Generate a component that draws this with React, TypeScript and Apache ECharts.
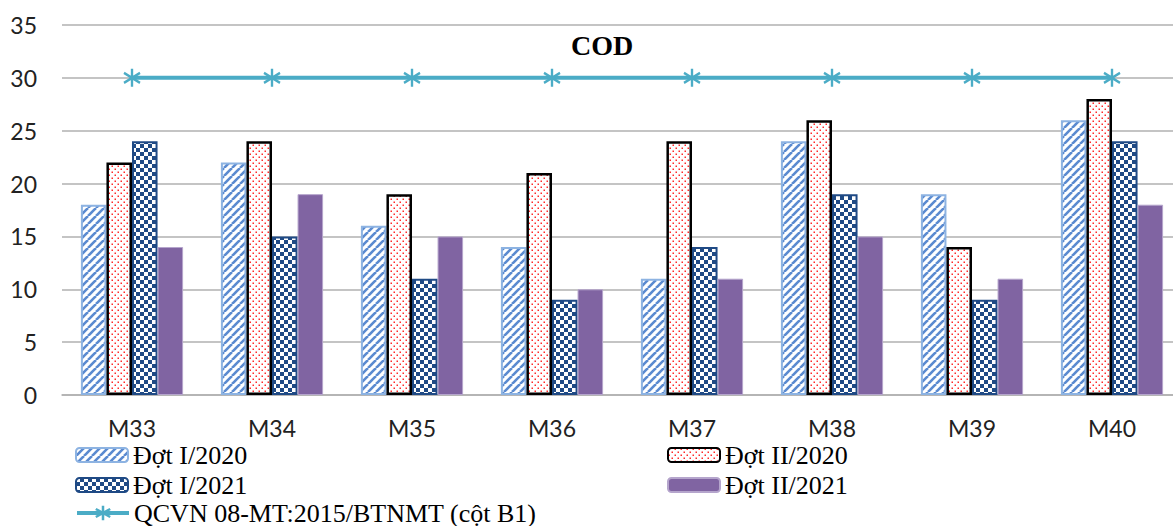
import React, { useEffect, useRef } from "react";
import * as echarts from "echarts";

// Monitoring points and COD values per sampling round
const categories = ["M33", "M34", "M35", "M36", "M37", "M38", "M39", "M40"];
const dotI2020 = [18, 22, 16, 14, 11, 24, 19, 26];
const dotII2020 = [22, 24, 19, 21, 24, 26, 14, 28];
const dotI2021 = [24, 15, 11, 9, 14, 19, 9, 24];
const dotII2021 = [14, 19, 15, 10, 11, 15, 11, 18];
const qcvnLimit = [30, 30, 30, 30, 30, 30, 30, 30];

const seriesNames = [
  "Đợt I/2020",
  "Đợt II/2020",
  "Đợt I/2021",
  "Đợt II/2021",
  "QCVN 08-MT:2015/BTNMT (cột B1)",
];

const yMin = 0;
const yMax = 35;
const yStep = 5;

function tile(size: number, draw: (ctx: CanvasRenderingContext2D) => void) {
  const c = document.createElement("canvas");
  c.width = size;
  c.height = size;
  const ctx = c.getContext("2d")!;
  draw(ctx);
  return {
    image: c.toDataURL(),
    repeat: "repeat",
    imageWidth: size,
    imageHeight: size,
  } as any;
}

function stripes() {
  return tile(8, (ctx) => {
    ctx.fillStyle = "#ffffff";
    ctx.fillRect(0, 0, 8, 8);
    ctx.strokeStyle = "#5a8ad0";
    ctx.lineWidth = 2.6;
    for (const k of [-8, 0, 8]) {
      ctx.beginPath();
      ctx.moveTo(k, 8);
      ctx.lineTo(k + 8, 0);
      ctx.stroke();
    }
  });
}

function dots() {
  return tile(6, (ctx) => {
    ctx.fillStyle = "#ffffff";
    ctx.fillRect(0, 0, 6, 6);
    ctx.fillStyle = "#ff2a2a";
    ctx.fillRect(0.5, 0.5, 1.5, 1.5);
    ctx.fillRect(3.5, 3.5, 1.5, 1.5);
  });
}

function checker() {
  return tile(8, (ctx) => {
    ctx.fillStyle = "#1f4a85";
    ctx.fillRect(0, 0, 8, 8);
    ctx.fillStyle = "#ffffff";
    ctx.fillRect(0, 0, 4, 4);
    ctx.fillRect(4, 4, 4, 4);
  });
}

// Asterisk marker: vertical stroke crossed by an X
const starPath = "path://M8,0L8,18M0,4L16,14M0,14L16,4";

const serifFont = "'Liberation Serif', 'Times New Roman', serif";
const sansFont = "Lato, 'Noto Sans', sans-serif";

export default function App() {
  const ref = useRef<HTMLDivElement>(null);

  useEffect(() => {
    if (!ref.current) return;
    const chart = echarts.init(ref.current, undefined, { renderer: "svg" });

    const legendText = {
      fontFamily: serifFont,
      fontSize: 26,
      color: "#000000",
      lineHeight: 28,
    };
    const legendAt = (name: string, left: number, top: number, extra: any = {}) => ({
      data: [name],
      left,
      top,
      orient: "horizontal",
      itemWidth: 52,
      itemHeight: 14,
      itemGap: 0,
      padding: 0,
      selectedMode: false,
      textStyle: legendText,
      ...extra,
    });

    chart.setOption({
      animation: false,
      backgroundColor: "#ffffff",
      grid: {
        left: 62,
        top: 25,
        width: 1120,
        height: 370,
        containLabel: false,
        outerBoundsMode: "none",
      },
      graphic: [
        {
          type: "text",
          left: 601 - 30,
          top: 31,
          style: {
            text: "COD",
            font: `bold 28px ${serifFont}`,
            fill: "#000000",
          },
        },
      ],
      legend: [
        legendAt(seriesNames[0], 75, 441),
        legendAt(seriesNames[1], 667, 441),
        legendAt(seriesNames[2], 75, 471),
        legendAt(seriesNames[3], 667, 471),
        legendAt(seriesNames[4], 75, 499, {
          itemHeight: 18,
          lineStyle: { width: 4, color: "#4bacc6" },
          itemStyle: { borderWidth: 2.5, borderColor: "#4bacc6" },
        }),
      ],
      xAxis: {
        type: "category",
        data: categories,
        axisLine: { show: true, lineStyle: { color: "#b0b0b0", width: 1.5 } },
        axisTick: { show: false },
        axisLabel: {
          fontFamily: sansFont,
          fontSize: 23,
          color: "#222222",
          margin: 21,
        },
      },
      yAxis: {
        type: "value",
        min: yMin,
        max: yMax,
        interval: yStep,
        axisLine: { show: false },
        axisTick: { show: false },
        splitLine: { lineStyle: { color: "#b0b0b0", width: 1.5 } },
        axisLabel: {
          fontFamily: sansFont,
          fontSize: 23,
          color: "#222222",
          margin: 25,
        },
      },
      series: [
        {
          name: seriesNames[0],
          type: "bar",
          data: dotI2020,
          barGap: "0%",
          barCategoryGap: "27%",
          itemStyle: { color: stripes(), borderColor: "#8db3e2", borderWidth: 2 },
        },
        {
          name: seriesNames[1],
          type: "bar",
          data: dotII2020,
          barGap: "0%",
          barCategoryGap: "27%",
          itemStyle: { color: dots(), borderColor: "#000000", borderWidth: 2.5 },
        },
        {
          name: seriesNames[2],
          type: "bar",
          data: dotI2021,
          barGap: "0%",
          barCategoryGap: "27%",
          itemStyle: { color: checker(), borderColor: "#1f4a85", borderWidth: 2 },
        },
        {
          name: seriesNames[3],
          type: "bar",
          data: dotII2021,
          barGap: "0%",
          barCategoryGap: "27%",
          itemStyle: { color: "#8064a2", borderColor: "#b5a5cc", borderWidth: 1 },
        },
        {
          name: seriesNames[4],
          type: "line",
          data: qcvnLimit,
          symbol: starPath,
          symbolSize: [16, 18],
          showAllSymbol: true,
          lineStyle: { color: "#4bacc6", width: 4 },
          itemStyle: { color: "none", borderColor: "#4bacc6", borderWidth: 2.5 },
          z: 5,
        },
      ],
    });

    return () => chart.dispose();
  }, []);

  return (
    <div
      ref={ref}
      style={{ position: "fixed", left: 0, top: 0, width: 1173, height: 526, background: "#fff" }}
    />
  );
}
